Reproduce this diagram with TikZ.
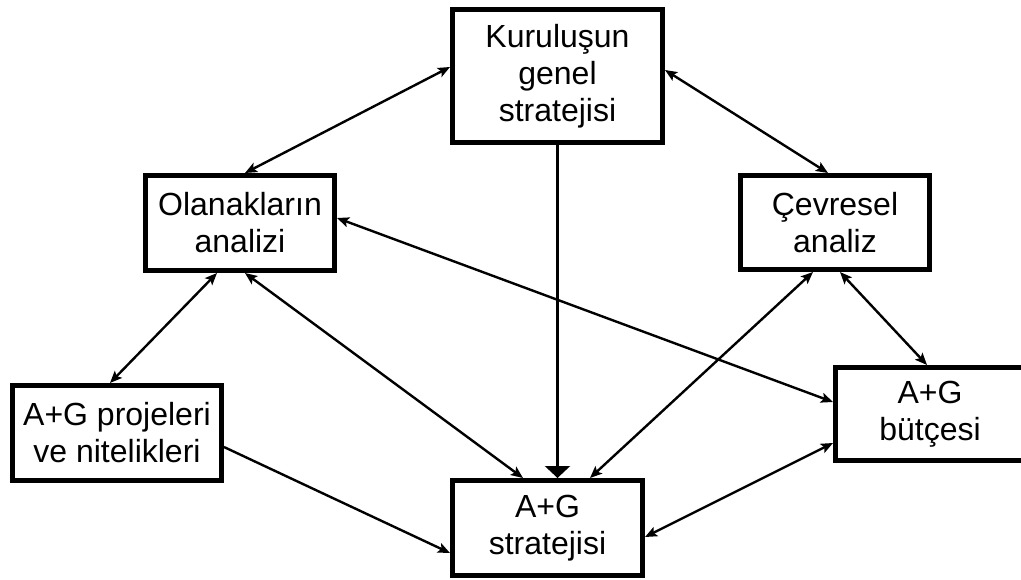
\documentclass[tikz,border=0pt]{standalone}
\usepackage{fontspec}
\setmainfont{Liberation Sans}
\usetikzlibrary{arrows.meta}
\begin{document}
\begin{tikzpicture}[x=1pt,y=-1pt,
  box/.style={draw, line width=5pt, align=center, inner sep=0pt,
    font=\fontsize{32}{37}\selectfont},
  tip/.style={Stealth[length=12pt,width=10pt,inset=2.5pt]},
  link/.style={line width=2.4pt, {Stealth[length=12pt,width=10pt,inset=2.5pt]}-{Stealth[length=12pt,width=10pt,inset=2.5pt]}},
  oneway/.style={line width=2.4pt, -{Stealth[length=12pt,width=10pt,inset=2.5pt]}},
  bigtip/.style={line width=2.4pt, -{Triangle[length=12pt,width=25pt]}}
]
\useasboundingbox (0,0) rectangle (1021,579);
\node[box, minimum width=210pt, minimum height=133pt] (K) at (557.5,76) {Kuruluşun\\genel\\stratejisi};
\node[box, minimum width=189pt, minimum height=95pt] (O) at (240,223) {Olanakların\\analizi};
\node[box, minimum width=189pt, minimum height=94pt] (C) at (835,222.5) {Çevresel\\analiz};
\node[box, minimum width=209pt, minimum height=95pt] (P) at (117,433) {A+G projeleri\\ve nitelikleri};
\node[box, minimum width=190pt, minimum height=95pt] (S) at (547.5,528) {A+G\\stratejisi};
\node[box, minimum width=189pt, minimum height=93pt] (B) at (930,414) {A+G\\bütçesi};

\draw[link] ([yshift=9pt]K.west) -- ([xshift=5pt]O.north);
\draw[link] ([yshift=6pt]K.east) -- ([xshift=-7pt]C.north);
\draw[bigtip] (K.south) -- (K.south |- S.north);
\draw[link] ([yshift=5pt]O.east) -- ([yshift=12pt]B.west);
\draw[link] ([xshift=-23pt]O.south) -- ([xshift=-7pt]P.north);
\draw[link] ([xshift=5pt]O.south) -- ([xshift=-24.5pt]S.north);
\draw[link] ([xshift=-22pt]C.south) -- ([xshift=42.5pt]S.north);
\draw[link] ([xshift=5pt]C.south) -- ([xshift=-3pt]B.north);
\draw[oneway] ([yshift=-14pt]P.east) -- ([yshift=-25pt]S.west);
\draw[link] ([yshift=-9pt]S.east) -- ([yshift=-29pt]B.west);
\end{tikzpicture}
\end{document}
